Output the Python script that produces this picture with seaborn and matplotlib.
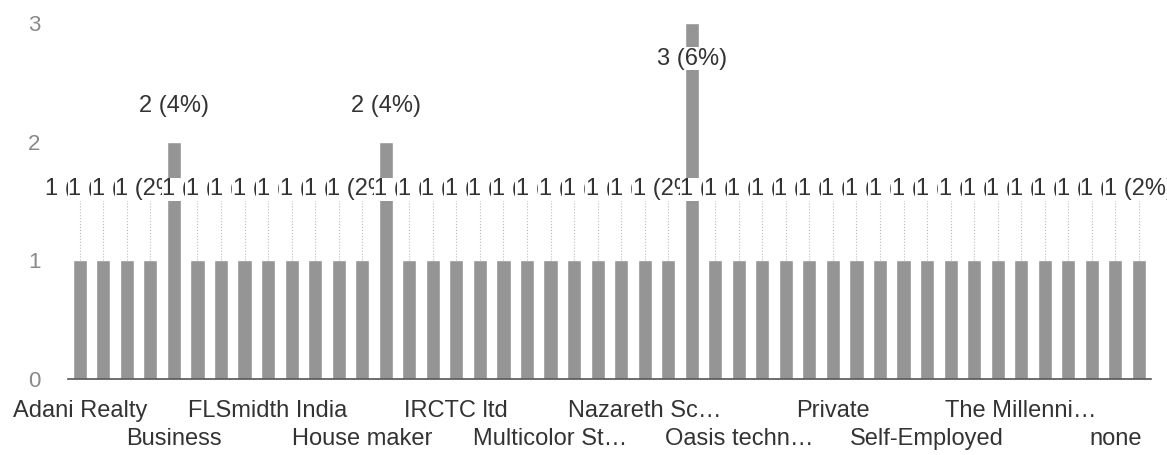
import numpy as np
import pandas as pd
import seaborn as sns
import matplotlib.pyplot as plt

# Datos: empresas / ocupaciones (orden alfabetico) y conteos
empresas = [
    "Adani Realty", "Airtel", "Amazon", "Bank of India", "Business",
    "Capgemini", "Cognizant", "Deloitte", "FLSmidth India", "Freelancer",
    "Government", "HCL", "House maker", "Housewife", "IBM",
    "ICICI Bank", "IRCTC ltd", "Infosys", "L&T", "Mahindra",
    "Multicolor Steels", "NA", "NIIT", "NTPC", "Nazareth School",
    "Nil", "None", "Not working", "Oasis technologies", "Oracle",
    "PWD", "Planning", "Private", "Railways", "Reliance",
    "SBI", "Self-Employed", "Student", "TCS", "Tata Motors",
    "The Millennium School", "Unemployed", "Wipro", "Zoho", "none",
    "retired",
]
conteos = [
    1, 1, 1, 1, 2, 1, 1, 1, 1, 1,
    1, 1, 1, 2, 1, 1, 1, 1, 1, 1,
    1, 1, 1, 1, 1, 1, 3, 1, 1, 1,
    1, 1, 1, 1, 1, 1, 1, 1, 1, 1,
    1, 1, 1, 1, 1, 1,
]
etiquetas_eje = [
    "Adani Realty", "Business", "FLSmidth India", "House maker",
    "IRCTC ltd", "Multicolor St\u2026", "Nazareth Sc\u2026", "Oasis techn\u2026",
    "Private", "Self-Employed", "The Millenni\u2026", "none",
]

df = pd.DataFrame({"Empresa": empresas, "Cantidad": conteos})
total = df["Cantidad"].sum()

sns.set_theme(style="white")
plt.rcParams["font.family"] = ["Liberation Sans", "DejaVu Sans"]

fig = plt.figure(figsize=(11.67, 4.55), dpi=100)
ax = fig.add_axes([0.0583, 0.167, 0.9277, 0.782])

sns.barplot(x="Empresa", y="Cantidad", data=df, color="#959595",
            width=0.6, saturation=1, ax=ax)

# Etiquetas de valor con fondo blanco (se superponen como en el original)
vals = df["Cantidad"].to_numpy()
label_y = np.where(vals == 1, 1.6, np.where(vals == 2, 2.3, 2.7))
for i, (v, ly) in enumerate(zip(vals, label_y)):
    if v == 1:
        ax.vlines(i, v, ly - 0.08, colors="#bbbbbb", linestyles=":", lw=0.8)
    pct = round(100 * v / total)
    ax.text(i, ly, f"{v} ({pct}%)", ha="center", va="center", fontsize=17,
            color="#333333", clip_on=False,
            bbox=dict(facecolor="white", edgecolor="none", pad=0.5))

# Personalizacion
ax.set_xlim(-0.5, len(empresas) - 0.5)
ax.set_ylim(0, 3)
ax.set_yticks([0, 1, 2, 3])
ax.tick_params(axis="y", labelsize=16, labelcolor="#8a8a8a", length=0, pad=20)
pos = list(range(0, len(empresas), 4))
lbls = [t if k % 2 == 0 else "\n" + t for k, t in enumerate(etiquetas_eje)]
ax.set_xticks(pos)
ax.set_xticklabels(lbls, fontsize=17, color="#333333", linespacing=1.35)
ax.tick_params(axis="x", length=0, pad=15)
ax.set_xlabel("")
ax.set_ylabel("")
sns.despine(ax=ax, left=True)
ax.spines["bottom"].set_color("#555555")
ax.spines["bottom"].set_linewidth(1.2)

plt.savefig("out.png", dpi=100)
